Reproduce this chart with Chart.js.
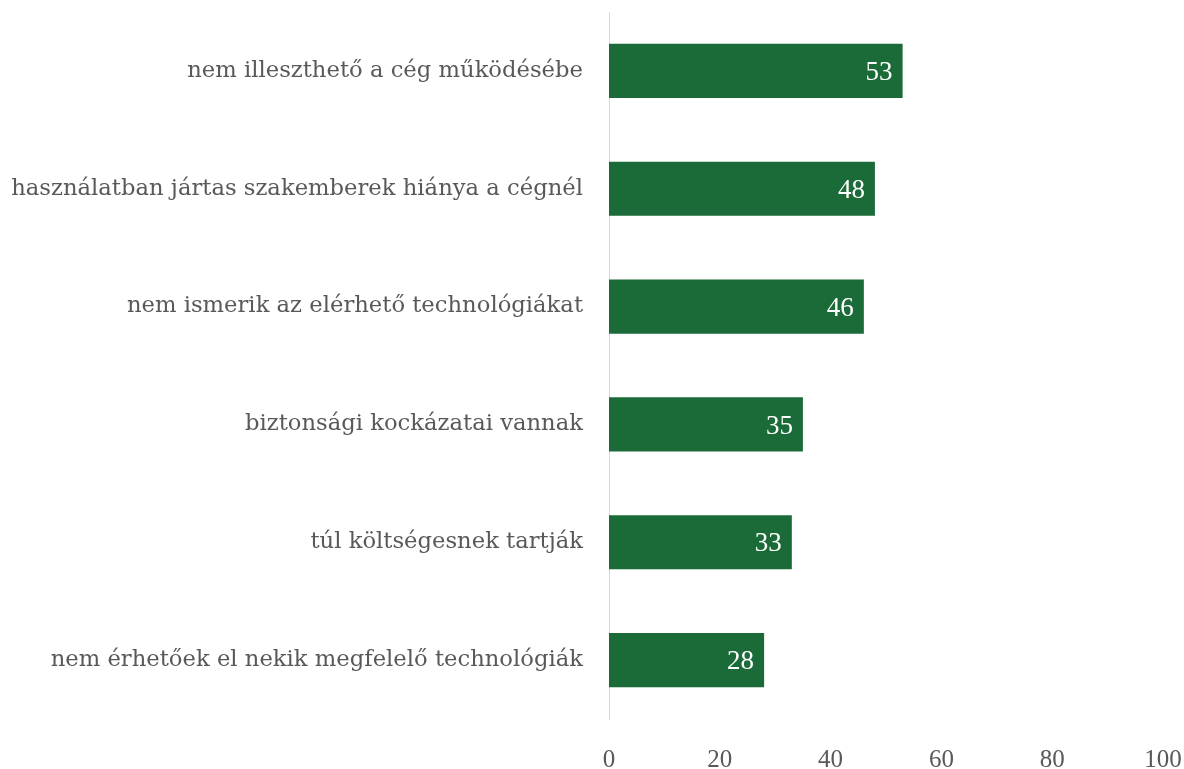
<!DOCTYPE html>
<html>
<head>
<meta charset="utf-8">
<script src="https://cdn.jsdelivr.net/npm/chart.js@4.4.1/dist/chart.umd.min.js"></script>
<style>
  html, body { margin: 0; padding: 0; background: #fff; }
  #wrap { width: 1184px; height: 769px; }
</style>
</head>
<body>
<div id="wrap"><canvas id="barChart" width="1184" height="769"></canvas></div>
<script>
  // data
  var labels = [
    "nem illeszthető a cég működésébe",
    "használatban jártas szakemberek hiánya a cégnél",
    "nem ismerik az elérhető technológiákat",
    "biztonsági kockázatai vannak",
    "túl költségesnek tartják",
    "nem érhetőek el nekik megfelelő technológiák"
  ];
  var values = [53, 48, 46, 35, 33, 28];
  var xMin = 0, xMax = 100, xStep = 20;

  var serif = "'Liberation Serif', serif";
  var labelSerif = "'DejaVu Serif', serif";
  var textGray = "#595959";
  var barGreen = "#1a6b38";

  // value labels inside the bar end
  var valueLabels = {
    id: 'valueLabels',
    afterDatasetsDraw: function(chart) {
      var ctx = chart.ctx;
      var meta = chart.getDatasetMeta(0);
      ctx.save();
      ctx.fillStyle = "#ffffff";
      ctx.font = "27px " + serif;
      ctx.textAlign = "right";
      ctx.textBaseline = "middle";
      meta.data.forEach(function(bar, i) {
        ctx.fillText(values[i], bar.x - 10, bar.y + 2);
      });
      ctx.restore();
    }
  };

  new Chart("barChart", {
    type: "bar",
    data: {
      labels: labels,
      datasets: [{
        data: values,
        backgroundColor: barGreen,
        barPercentage: 0.46,
        categoryPercentage: 1
      }]
    },
    plugins: [valueLabels],
    options: {
      indexAxis: 'y',
      responsive: false,
      animation: false,
      layout: { padding: { top: 12, bottom: 0, left: 0, right: 21 } },
      plugins: {
        legend: { display: false },
        tooltip: { enabled: false }
      },
      scales: {
        x: {
          min: xMin,
          max: xMax,
          ticks: {
            stepSize: xStep,
            color: textGray,
            padding: 26,
            font: { family: serif, size: 25 }
          },
          grid: { display: false, drawTicks: false },
          border: { display: false },
          afterFit: function(scale) {
            scale.height = 50;
            scale.paddingLeft = 0;
            scale.paddingRight = 0;
          }
        },
        y: {
          ticks: {
            color: textGray,
            padding: 26,
            font: { family: labelSerif, size: 22.7 }
          },
          grid: { display: false, drawTicks: false },
          border: { display: true, color: "#d9d9d9", width: 1 },
          afterFit: function(scale) {
            scale.width = 609;
            scale.paddingTop = 0;
            scale.paddingBottom = 0;
          }
        }
      }
    }
  });
</script>
</body>
</html>
